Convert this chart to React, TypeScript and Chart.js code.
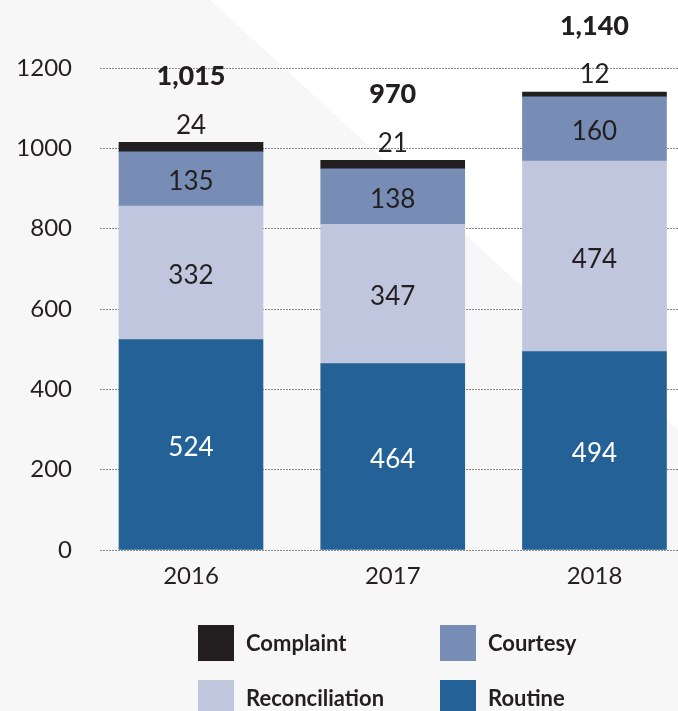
import React, { useEffect, useRef } from "react";
import { Chart, registerables } from "chart.js";

Chart.register(...registerables);

const categories = ["2016", "2017", "2018"];
const routine = [524, 464, 494];
const reconciliation = [332, 347, 474];
const courtesy = [135, 138, 160];
const complaint = [24, 21, 12];

const seriesNames = ["Routine", "Reconciliation", "Courtesy", "Complaint"];
const seriesColors = ["#236196", "#c0c6dd", "#778db5", "#231f20"];
const legendOrder = ["Complaint", "Courtesy", "Reconciliation", "Routine"];

const TEXT = "#231f20";
const FONT = "Lato, 'Open Sans', sans-serif";

const bgPlugin = {
  id: "bg",
  beforeDraw(chart: any) {
    const { ctx, width, height } = chart;
    ctx.save();
    ctx.fillStyle = "#ffffff";
    ctx.fillRect(0, 0, width, height);
    ctx.fillStyle = "#f7f7f7";
    ctx.beginPath();
    ctx.moveTo(0, 0);
    ctx.lineTo(210, 0);
    ctx.lineTo(width, 430);
    ctx.lineTo(width, height);
    ctx.lineTo(0, height);
    ctx.closePath();
    ctx.fill();
    ctx.restore();
  },
};

const labelPlugin = {
  id: "valueLabels",
  afterDatasetsDraw(chart: any) {
    const { ctx } = chart;
    ctx.save();
    ctx.textAlign = "center";
    ctx.textBaseline = "middle";
    const n = chart.data.datasets.length;
    chart.data.datasets.forEach((ds: any, di: number) => {
      const meta = chart.getDatasetMeta(di);
      meta.data.forEach((bar: any, i: number) => {
        const { x, y, base } = bar.getProps(["x", "y", "base"], true);
        const v = ds.data[i].y;
        if (di === n - 1) {
          ctx.font = `400 26px ${FONT}`;
          ctx.fillStyle = TEXT;
          ctx.fillText(String(v), x, y - 17);
          const total = chart.data.datasets.reduce(
            (s: number, d: any) => s + d.data[i].y,
            0
          );
          ctx.font = `900 27px ${FONT}`;
          ctx.fillText(total.toLocaleString("en-US"), x, y - 66);
        } else {
          ctx.font = `400 26px ${FONT}`;
          ctx.fillStyle = di === 0 ? "#ffffff" : TEXT;
          ctx.fillText(String(v), x, (y + base) / 2 + 3);
        }
      });
    });
    ctx.restore();
  },
};

const legendPlugin = {
  id: "customLegend",
  afterDraw(chart: any) {
    const { ctx } = chart;
    const pos = [
      [198, 625],
      [440, 625],
      [198, 680],
      [440, 680],
    ];
    ctx.save();
    ctx.textAlign = "left";
    ctx.textBaseline = "middle";
    ctx.font = `bold 22px ${FONT}`;
    legendOrder.forEach((name, k) => {
      const idx = seriesNames.indexOf(name);
      const [lx, ly] = pos[k];
      ctx.fillStyle = seriesColors[idx];
      ctx.fillRect(lx, ly, 36, 36);
      ctx.fillStyle = TEXT;
      ctx.fillText(name, lx + 48, ly + 19);
    });
    ctx.restore();
  },
};

export default function App() {
  const ref = useRef<HTMLCanvasElement>(null);
  useEffect(() => {
    const values = [routine, reconciliation, courtesy, complaint];
    const chart = new Chart(ref.current as HTMLCanvasElement, {
      type: "bar",
      data: {
        datasets: seriesNames.map((name, si) => ({
          label: name,
          data: categories.map((_, i) => ({ x: i, y: values[si][i] })),
          backgroundColor: seriesColors[si],
          borderWidth: 0,
          barThickness: 144,
        })),
      },
      options: {
        responsive: false,
        animation: false,
        layout: { padding: { top: 68, left: 0, right: 0, bottom: 0 } },
        scales: {
          x: {
            type: "linear",
            stacked: true,
            offset: false,
            min: -0.451,
            max: 2.414,
            grid: { display: false, drawTicks: false, offset: false },
            border: { display: false },
            afterBuildTicks: (s: any) => {
              s.ticks = categories.map((_, i) => ({ value: i }));
            },
            ticks: {
              autoSkip: false,
              maxRotation: 0,
              padding: 12,
              color: TEXT,
              font: { family: FONT, size: 24, weight: "400" },
              callback: (v: any) => {
                const r = Math.round(v);
                return Math.abs(v - r) < 1e-6 ? categories[r] ?? "" : "";
              },
            },
            afterFit: (s: any) => {
              s.height = 161;
            },
          },
          y: {
            stacked: true,
            min: 0,
            max: 1200,
            grid: { color: "#8a8a8a", lineWidth: 1, drawTicks: false },
            border: { display: false, dash: [2, 1] },
            ticks: {
              stepSize: 200,
              padding: 28,
              color: TEXT,
              font: { family: FONT, size: 24, weight: "400" },
              callback: (v: any) => String(v),
            },
            afterFit: (s: any) => {
              s.width = 100;
            },
          },
        },
        plugins: {
          legend: { display: false },
          tooltip: { enabled: false },
        },
      } as any,
      plugins: [bgPlugin, labelPlugin, legendPlugin],
    });
    return () => chart.destroy();
  }, []);
  return (
    <div style={{ position: "absolute", left: 0, top: 0, width: 678, height: 711 }}>
      <canvas ref={ref} width={678} height={711} style={{ display: "block" }} />
    </div>
  );
}
